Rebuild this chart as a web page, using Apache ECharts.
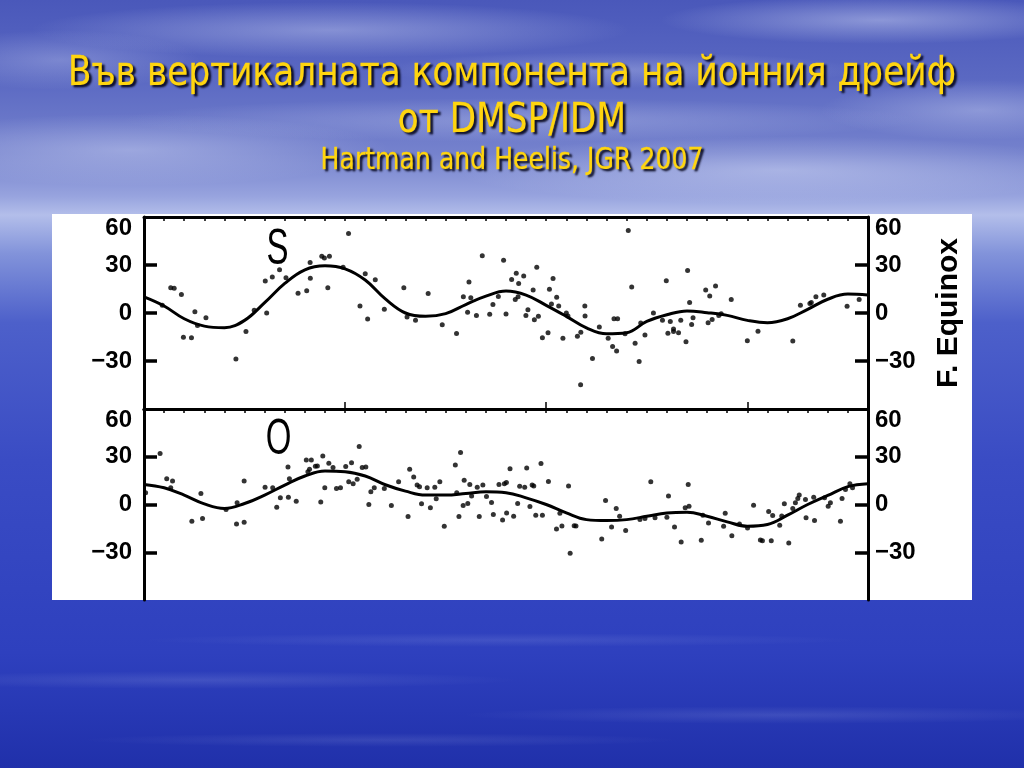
<!DOCTYPE html>
<html><head><meta charset="utf-8">
<script src="https://cdn.jsdelivr.net/npm/echarts@6/dist/echarts.min.js"></script>
<style>html,body{margin:0;padding:0;width:1024px;height:768px;overflow:hidden;background:#3646bf}#c{width:1024px;height:768px}</style>
</head><body><div id="c"></div><script>
// ---- data ----
const titleLine1 = 'Във вертикалната компонента на йонния дрейф';
const titleLine2 = 'от DMSP/IDM';
const titleLine3 = 'Hartman and Heelis, JGR 2007';
const panelLetters = ['S', 'O'];
const sideLabel = 'F. Equinox';
const yTickValues = [60, 30, 0, -30];

// longitude (deg) of the fitted curves
const curveLon = [0,10,20,30,40,50,60,70,80,90,100,110,120,130,140,150,160,170,180,190,200,210,220,230,240,250,260,270,280,290,300,310,320,330,340,350,360];
// S panel fitted curve (m/s)
const sCurve = [10.1,4.4,-3.6,-8.2,-9.2,-4.6,6.5,18.5,27,29.5,27.6,20.6,8.8,0,-2.1,-0.4,5.3,10.5,13.7,11.2,4.8,-2.1,-9.3,-13,-12.3,-5.3,-1.1,1.3,0.2,-1.5,-4.6,-6.1,-3.6,2.3,8.6,11.8,11.2];
// O panel fitted curve (m/s)
const oCurve = [12.6,10.5,5.9,0.4,-2.5,0.6,5.9,12.2,17.9,21,20.6,17.9,12.4,8.4,5.9,5.9,6.9,8,7.4,4.2,0,-5.3,-9.5,-10.1,-9.5,-7.4,-5.3,-4.8,-7.4,-10.9,-13.7,-12.6,-6.7,0,5.7,11.2,13];

// S panel observations [longitude, drift]
const sPoints = [[13.3,15.8],[15,15.4],[18.6,11.6],[25.3,0.8],[30.8,-2.9],[26.6,-7.8],[19.6,-15.2],[23.6,-15.4],[9.1,4.8],[45.7,-28.8],[50.7,-11.6],[54.8,1.7],[61,0],[60.3,20],[63.8,22.5],[67.4,27],[70.6,22.1],[76.6,12.4],[80.9,13.9],[82.7,21.7],[82.6,31.6],[88.4,35.4],[89.7,34.3],[92.2,35.4],[91.4,15.8],[101.7,49.7],[99,28.6],[110,24.6],[115,20.8],[107.4,4.4],[111.2,-3.8],[119.5,2.3],
[129.2,15.8],[130.8,-2.5],[135,-4.6],[141.3,12.2],[148.3,-7.4],[155.4,-12.8],[158.8,10.1],[161.6,19.4],[160.9,0.4],[165.3,-1.5],[162.5,9.5],[168.2,35.8],[171.9,-0.8],[173.5,5.3],[176.2,10.3],[178.8,33],[180,-0.6],[182.8,21],[185.1,24.8],[186.3,18.5],[188.8,23.2],[184.6,8.4],[186,10.1],[189.9,-1.5],[190.9,2.1],[193.5,14.3],[194.1,-4.2],[196.1,-2.1],[195.3,28.6],[198.1,-15.4],[200.9,-12.4],[201.6,14.9],[203.4,21.5],[202.6,5.7],[205.2,9.9],[206.2,4.4],[208.3,-15.8],[210,0],[210.8,-1.9],[215.5,-14.5],[217.1,-44.8],[219.2,4.4],[219.3,-1.9],[217.2,-12],[223,-28.4],[226.4,-8.8],[233.7,-3.6],[235.5,-3.6],[230.8,-15.8],[233,-21],[235,-23.8],[239.2,-13],
[240.8,51.6],[242.5,16.2],[244.2,-18.9],[246.2,-30.3],[247,-6.3],[249.1,-13.7],[253.3,0],[257.8,-4.6],[259.7,20.2],[260.5,-12.6],[261.7,-5.3],[263.3,-11.5],[263.3,-10],[265.8,-12.4],[266.9,-4.6],[269.5,-17.9],[270.3,26.5],[271.3,6.5],[272.3,-7.2],[273,-2.9],[279.3,14.3],[281.3,10.7],[280.5,-6.1],[282.5,-4],[284.2,16.8],[285.8,-1.5],[287,-0.4],[292,8.4],[305.3,-11.4],[300,-17.3],[322.6,-17.5],[326.4,4.8],[331.1,5.9],[331.8,6.5],[334.1,10.1],[338,11.2],[349.6,4.2],[355.6,8.4]];

// O panel observations [longitude, drift]
const oPoints = [[0.8,7.4],[8,32],[11.3,16.2],[14.2,14.7],[13.3,10.5],[23.8,-10.5],[29.1,-8.8],[28.3,6.9],[40.8,-3.2],[46.3,1.1],[46,-12.2],[49.8,-11.2],[49.8,14.7],[60.2,10.9],[64,10.5],[66,-1.7],[67.8,4.2],[71.8,4.6],[71.6,23.6],[72.3,16.2],[75.7,2.1],[80.7,28],[83.2,28],[81.5,20.6],[82.3,22.1],[85.2,24],[86.2,24.2],[88.9,30.5],[87.9,1.5],[89.9,10.5],[91.9,25.9],[94,23.2],[95.7,10.1],[97.7,10.5],[100.3,23.8],[103.2,26.3],[101.8,14.3],[104,13],[107,36.4],[106,15.8],[108.5,23.2],[110.3,23.6],[111.8,0],[112.8,8],[114.5,10.5],[119.5,10.1],
[123,-0.6],[126.6,14.3],[131.3,-7.6],[132.1,22.1],[134.1,17.3],[135.8,12.2],[137,11.2],[138,0.4],[140.8,10.5],[142.4,-2.1],[144.6,10.9],[145.3,3.6],[147.1,14.3],[149.3,-13.7],[154.8,24.8],[157.4,32.6],[155.5,7.4],[156.6,-7.6],[158.7,-0.6],[161,0.6],[159.2,15.2],[162,12.6],[162.9,5.3],[165.7,10.9],[168.5,12.2],[166.7,-7.6],[170.3,5.1],[172.8,1.3],[173.7,-6.3],[176.5,12.6],[178.3,-9.7],[179.2,13],[180.2,13.9],[180.3,-5.3],[182,22.5],[183.8,-7.4],[185.8,0.6],[186.8,11.4],[189.3,10.9],[190.3,22.9],[191.9,-1.3],[193,12.2],[193.8,11.6],[194.8,-6.7],[197.4,25.7],[198.1,-6.7],[201.1,14.5],[205.1,-15.4],[206.8,-5.5],[207.8,-13.5],[211.1,11.6],[211.9,-30.7],[213.9,-13.3],[214.8,-13.5],[227.6,-21.7],[229.5,2.5],[232.5,-14.1],[234.8,-2.5],[236.5,-7.4],[239.5,-16.4],
[246.6,-9.5],[249.1,-8.8],[254.1,-8.4],[252,14.3],[260,-8],[260.8,5.3],[263.8,-14.1],[267.1,-23.6],[269.1,-2.1],[270.6,12.6],[271,-1.1],[277.1,-22.5],[277.9,-6.7],[280.7,-11.6],[288.2,-13.7],[289,-5.5],[292.3,-19.6],[296.1,-12.2],[300.1,-14.7],[303.1,-0.4],[306.5,-22.3],[307.5,-22.7],[310.6,-4.4],[312.6,-6.9],[311.9,-22.7],[316.1,-13],[317.1,-7.2],[318.4,0.4],[320.6,-24.2],[322.6,-2.5],[323.9,1.1],[325.1,3.8],[325.8,5.9],[328.9,3.2],[329.2,-8.4],[333,4.6],[333.4,-10.1],[338.4,4.2],[340.2,-1.1],[341.3,1.1],[347.1,3.8],[346.3,-10.5],[348.8,9.5],[351,13],[352.3,10.5]];

// ---- build ----
const zip = (xs, ys) => xs.map((x, i) => [x, ys[i]]);
const chart = echarts.init(document.getElementById('c'), null, {renderer: 'canvas'});

const mctx = document.createElement('canvas').getContext('2d');
const TITLE_FONT = '41px "DejaVu Sans"';
mctx.font = TITLE_FONT;
const titleScale = 888 / mctx.measureText(titleLine1).width;

const yellow = '#FFD50F';
function titleText(text, y, font) {
  return {type: 'text', x: 512, y: y, scaleX: titleScale, z: 5,
    style: {text: text, font: font, fill: yellow, stroke: yellow, lineWidth: 0.45, align: 'center', verticalAlign: 'middle',
      shadowColor: 'rgba(0,0,20,0.9)', shadowOffsetX: 2.5, shadowOffsetY: 2.5, shadowBlur: 2,
      textShadowColor: 'rgba(0,0,20,0.9)', textShadowOffsetX: 2.5, textShadowOffsetY: 2.5, textShadowBlur: 2}};
}
// soft cloud streak: a radially shaded circle squashed vertically
function cloud(cx, cy, rx, ry, a) {
  return {type: 'circle', x: cx, y: cy, scaleY: ry / rx, shape: {cx: 0, cy: 0, r: rx}, z: -9, silent: true,
    style: {fill: new echarts.graphic.RadialGradient(0.5, 0.5, 0.5, [
      {offset: 0, color: 'rgba(232,238,255,' + a + ')'}, {offset: 0.5, color: 'rgba(232,238,255,' + (a * 0.5) + ')'},
      {offset: 1, color: 'rgba(232,238,255,0)'}])}};
}

const labelFont = {color: '#000', fontFamily: '"Liberation Sans", Arial, sans-serif', fontWeight: 'bold', fontSize: 24, lineHeight: 22};
function yAxisCfg(grid, pos) {
  return {type: 'value', gridIndex: grid, position: pos, min: -60, max: 60, interval: 30,
    axisLine: {show: true, onZero: false, lineStyle: {color: '#000', width: 3}},
    axisTick: {show: true, inside: true, length: 13, customValues: [-30, 0, 30], lineStyle: {color: '#000', width: 3.5}},
    splitLine: {show: false},
    axisLabel: Object.assign({show: true, margin: pos === 'left' ? 12 : 7, customValues: yTickValues,
      formatter: v => v === 60 ? '\n60' : (v === -60 ? '' : (v < 0 ? '\u2212' + Math.abs(v) : String(v)))}, labelFont)};
}
function xAxisCfg(grid, pos, interval, len) {
  return {type: 'value', gridIndex: grid, position: pos, min: 0, max: 360, interval: interval,
    axisLine: {show: true, onZero: false, lineStyle: {color: '#000', width: 3}},
    axisTick: {show: true, inside: true, length: len, lineStyle: {color: '#000', width: 1.5}},
    axisLabel: {show: false}, splitLine: {show: false}};
}

const option = {
  animation: false,
  backgroundColor: 'transparent',
  graphic: [
    {type: 'rect', shape: {x: 0, y: 0, width: 1024, height: 768}, z: -10, silent: true,
      style: {fill: new echarts.graphic.LinearGradient(0, 0, 0, 1, [
        {offset: 0, color: '#4a58ba'}, {offset: 0.1, color: '#5a68c2'}, {offset: 0.2, color: '#7582cd'},
        {offset: 0.255, color: '#97a3de'}, {offset: 0.28, color: '#b3beea'}, {offset: 0.33, color: '#8293da'},
        {offset: 0.42, color: '#4d60ca'}, {offset: 0.6, color: '#3a4cc4'}, {offset: 0.85, color: '#2e40be'},
        {offset: 1, color: '#2030aa'}])}},
    cloud(330, 30, 300, 28, 0.35), cloud(880, 20, 220, 24, 0.4), cloud(130, 150, 260, 36, 0.35),
    cloud(780, 170, 330, 34, 0.38), cloud(520, 120, 400, 22, 0.25), cloud(620, 70, 240, 18, 0.25),
    cloud(60, 60, 140, 30, 0.25), cloud(980, 110, 160, 30, 0.3),
    cloud(200, 680, 320, 9, 0.12), cloud(780, 715, 320, 9, 0.12), cloud(500, 640, 360, 7, 0.1), cloud(380, 740, 300, 7, 0.1),
    {type: 'rect', shape: {x: 52, y: 214, width: 920, height: 386}, z: -5, silent: true, style: {fill: '#fff'}},
    titleText(titleLine1, 74, TITLE_FONT),
    titleText(titleLine2, 121, TITLE_FONT),
    titleText(titleLine3, 161, '30px "DejaVu Sans"'),
    {type: 'text', x: 277.5, y: 250, scaleX: 0.66, z: 5,
      style: {text: panelLetters[0], font: '50px "Liberation Sans", Arial', fill: '#000', align: 'center', verticalAlign: 'middle'}},
    {type: 'text', x: 278.5, y: 440, scaleX: 0.66, z: 5,
      style: {text: panelLetters[1], font: '50px "Liberation Sans", Arial', fill: '#000', align: 'center', verticalAlign: 'middle'}}
  ],
  grid: [
    {left: 144, top: 217, width: 724, height: 192, show: false},
    {left: 144, top: 409, width: 724, height: 191, show: false}
  ],
  xAxis: [
    xAxisCfg(0, 'top', 10, 4),
    xAxisCfg(0, 'bottom', 100, 7),
    xAxisCfg(1, 'top', 10, 4)
  ],
  yAxis: [
    yAxisCfg(0, 'left'),
    Object.assign(yAxisCfg(0, 'right'), {name: sideLabel, nameLocation: 'middle', nameRotate: 90, nameGap: 66,
      nameTextStyle: {color: '#000', fontFamily: '"Liberation Sans", Arial, sans-serif', fontWeight: 'bold', fontSize: 30}}),
    yAxisCfg(1, 'left'),
    yAxisCfg(1, 'right')
  ],
  series: [
    {type: 'line', xAxisIndex: 0, yAxisIndex: 0, data: zip(curveLon, sCurve), smooth: 0.4, showSymbol: false,
      lineStyle: {color: '#000', width: 3}, z: 3},
    {type: 'scatter', xAxisIndex: 0, yAxisIndex: 0, data: sPoints, symbolSize: 5, itemStyle: {color: '#000'}, z: 4},
    {type: 'line', xAxisIndex: 2, yAxisIndex: 2, data: zip(curveLon, oCurve), smooth: 0.4, showSymbol: false,
      lineStyle: {color: '#000', width: 3}, z: 3},
    {type: 'scatter', xAxisIndex: 2, yAxisIndex: 2, data: oPoints, symbolSize: 5, itemStyle: {color: '#000'}, z: 4}
  ]
};
chart.setOption(option);
</script></body></html>
